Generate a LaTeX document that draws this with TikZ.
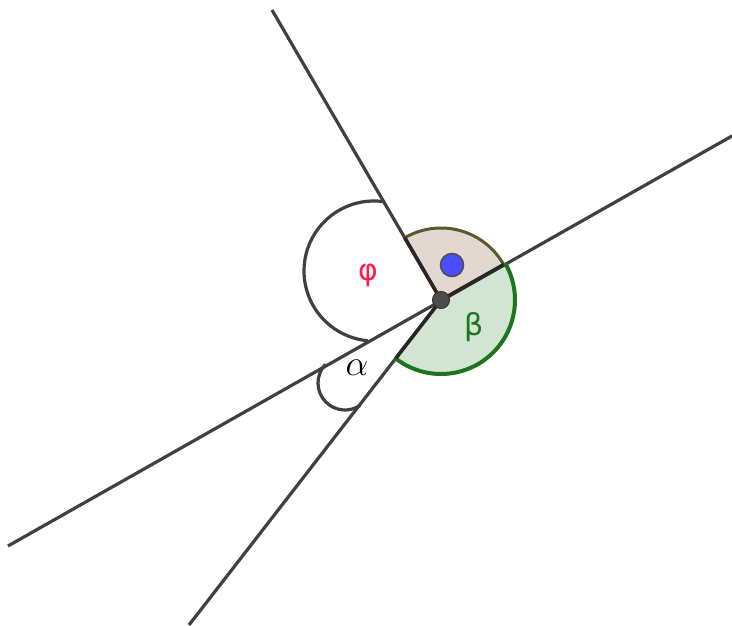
\documentclass[tikz,border=0pt]{standalone}
\usepackage{fix-cm}
\usepackage{fontspec}
\newfontfamily\gsans{DejaVu Sans}
\definecolor{lineg}{HTML}{404040}
\definecolor{pinkf}{HTML}{E3D8D0}
\definecolor{pinke}{HTML}{555A2A}
\definecolor{greenf}{HTML}{D2E5D2}
\definecolor{greene}{HTML}{1E741E}
\definecolor{phired}{HTML}{FF1F4F}
\definecolor{bluept}{HTML}{4B4BFF}
\tikzset{
  ln/.style={draw=lineg, line width=3.2pt},
  radial/.style={draw=black!85, line width=3.5pt},
  anglearc/.style={draw=lineg, line width=3.2pt},
  lbl/.style={inner sep=0pt},
}
\begin{document}
\begin{tikzpicture}[x=1pt,y=1pt]
\useasboundingbox (0,0) rectangle (732,625);
\coordinate (O) at (441,325);
\coordinate (L1a) at (8,79);
\coordinate (L1b) at (732,489);
\coordinate (R2) at (272,615);
\coordinate (R3) at (189,0);
% sectors
\fill[pinkf] (O) -- ++(29.5:72) arc[start angle=29.5,end angle=120.2,radius=72] -- cycle;
\fill[greenf] (O) -- ++(232.2:74) arc[start angle=232.2,end angle=389.5,radius=74] -- cycle;
% lines
\draw[ln] (L1a) -- (L1b);
\draw[ln] (O) -- (R2);
\draw[ln] (O) -- (R3);
% sector edges
\draw[pinke, line width=3pt] (O) ++(29.5:72) arc[start angle=29.5,end angle=120.2,radius=72];
\draw[greene, line width=4pt] (O) ++(232.2:74) arc[start angle=232.2,end angle=389.5,radius=74];
\draw[radial] (O) -- ++(120.2:72);
\draw[radial] (O) -- ++(29.5:72);
\draw[radial] (O) -- ++(232.2:74);
% phi arc
\draw[anglearc] (374,354) ++(81:70) arc[start angle=81,end angle=265,radius=70];
% alpha arc
\draw[anglearc] (345,242) ++(136:27) arc[start angle=136,end angle=304,radius=27];
% points
\node[circle, fill=bluept, draw=black!70, line width=1.5pt, minimum size=23pt, inner sep=0pt] (B) at (452,360) {};
\node[circle, fill=black!70, draw=black!80, line width=1pt, minimum size=17pt, inner sep=0pt] (P) at (O) {};
% labels
\node[lbl, text=phired] (phi) at (368,350) {\gsans\fontsize{30}{36}\selectfont φ};
\node[lbl, text=greene] (beta) at (474,298) {\gsans\fontsize{30}{36}\selectfont β};
\node[lbl, text=black] (alpha) at (357,257) {\fontsize{36}{40}\selectfont $\alpha$};
\end{tikzpicture}
\end{document}
